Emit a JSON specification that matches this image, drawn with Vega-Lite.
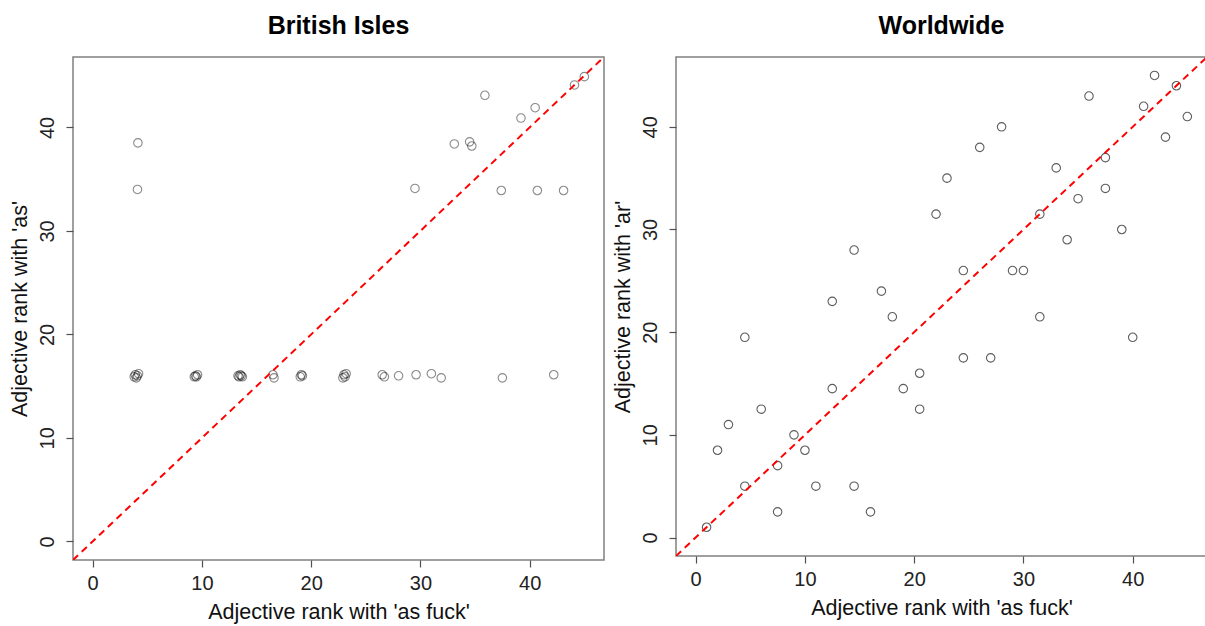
{
  "$schema": "https://vega.github.io/schema/vega-lite/v6.json",
  "padding": {"left": 8, "top": 13, "right": 0, "bottom": 0},
  "background": "white",
  "spacing": 72,
  "bounds": "flush",
  "config": {
    "view": {"stroke": "#808080", "strokeWidth": 1.5},
    "font": "Liberation Sans",
    "axis": {
      "domain": false, "grid": false, "tickColor": "#505050", "tickSize": 7, "tickWidth": 1.2,
      "labelFontSize": 20, "labelColor": "#222222", "labelPadding": 6,
      "titleFontSize": 21.5, "titleFontWeight": "normal", "titleColor": "#111111", "titlePadding": 8
    },
    "axisY": {"labelAngle": -90, "labelAlign": "center", "labelBaseline": "bottom", "labelPadding": 9, "titlePadding": 6},
    "title": {"fontSize": 25, "fontWeight": "bold", "anchor": "middle", "color": "#000000", "offset": 18}
  },
  "hconcat": [
    {
      "title": "British Isles",
      "width": 531,
      "height": 503,
      "layer": [
        {
          "data": {"values": [
            {"rank_as_fuck": 4.14, "rank_as": 38.5},
            {"rank_as_fuck": 4.1, "rank_as": 34.0},
            {"rank_as_fuck": 35.9, "rank_as": 43.1},
            {"rank_as_fuck": 29.5, "rank_as": 34.1},
            {"rank_as_fuck": 33.1, "rank_as": 38.4},
            {"rank_as_fuck": 34.5, "rank_as": 38.6},
            {"rank_as_fuck": 34.7, "rank_as": 38.2},
            {"rank_as_fuck": 39.2, "rank_as": 40.9},
            {"rank_as_fuck": 40.5, "rank_as": 41.9},
            {"rank_as_fuck": 37.4, "rank_as": 33.9},
            {"rank_as_fuck": 40.7, "rank_as": 33.9},
            {"rank_as_fuck": 43.1, "rank_as": 33.9},
            {"rank_as_fuck": 44.1, "rank_as": 44.1},
            {"rank_as_fuck": 45.0, "rank_as": 44.9},
            {"rank_as_fuck": 3.8, "rank_as": 15.9},
            {"rank_as_fuck": 3.9, "rank_as": 16.1},
            {"rank_as_fuck": 4.0, "rank_as": 15.8},
            {"rank_as_fuck": 4.1, "rank_as": 16.0},
            {"rank_as_fuck": 4.2, "rank_as": 16.2},
            {"rank_as_fuck": 9.3, "rank_as": 15.9},
            {"rank_as_fuck": 9.4, "rank_as": 16.0},
            {"rank_as_fuck": 9.5, "rank_as": 15.9},
            {"rank_as_fuck": 9.6, "rank_as": 16.1},
            {"rank_as_fuck": 13.3, "rank_as": 16.0},
            {"rank_as_fuck": 13.4, "rank_as": 15.9},
            {"rank_as_fuck": 13.5, "rank_as": 16.1},
            {"rank_as_fuck": 13.6, "rank_as": 16.0},
            {"rank_as_fuck": 13.7, "rank_as": 15.9},
            {"rank_as_fuck": 16.5, "rank_as": 16.1},
            {"rank_as_fuck": 16.6, "rank_as": 15.8},
            {"rank_as_fuck": 19.0, "rank_as": 15.9},
            {"rank_as_fuck": 19.1, "rank_as": 16.1},
            {"rank_as_fuck": 19.2, "rank_as": 16.0},
            {"rank_as_fuck": 22.9, "rank_as": 15.8},
            {"rank_as_fuck": 23.0, "rank_as": 16.1},
            {"rank_as_fuck": 23.1, "rank_as": 15.9},
            {"rank_as_fuck": 23.2, "rank_as": 16.2},
            {"rank_as_fuck": 26.5, "rank_as": 16.1},
            {"rank_as_fuck": 26.7, "rank_as": 15.9},
            {"rank_as_fuck": 28.0, "rank_as": 16.0},
            {"rank_as_fuck": 29.6, "rank_as": 16.1},
            {"rank_as_fuck": 31.0, "rank_as": 16.2},
            {"rank_as_fuck": 31.9, "rank_as": 15.8},
            {"rank_as_fuck": 37.5, "rank_as": 15.8},
            {"rank_as_fuck": 42.2, "rank_as": 16.1}
          ]},
          "mark": {"type": "point", "shape": "circle", "filled": false, "size": 72, "stroke": "#000000", "strokeOpacity": 0.65, "strokeWidth": 1.1},
          "encoding": {
            "x": {"field": "rank_as_fuck", "type": "quantitative", "scale": {"domain": [-1.8, 46.8], "nice": false, "zero": false}, "axis": {"title": "Adjective rank with 'as fuck'", "values": [0, 10, 20, 30, 40]}},
            "y": {"field": "rank_as", "type": "quantitative", "scale": {"domain": [-1.8, 46.8], "nice": false, "zero": false}, "axis": {"title": "Adjective rank with 'as'", "values": [0, 10, 20, 30, 40]}}
          }
        },
        {
          "data": {"values": [{"line": "y = x"}]},
          "mark": {"type": "rule", "color": "#ff0000", "strokeDash": [7, 5], "strokeWidth": 2, "clip": true},
          "encoding": {"x": {"datum": -1.8}, "y": {"datum": -1.8}, "x2": {"datum": 46.8}, "y2": {"datum": 46.8}}
        }
      ]
    },
    {
      "title": "Worldwide",
      "width": 531,
      "height": 499,
      "layer": [
        {
          "data": {"values": [
            {"rank_as_fuck": 1, "rank_ar": 1},
            {"rank_as_fuck": 2, "rank_ar": 8.5},
            {"rank_as_fuck": 3, "rank_ar": 11},
            {"rank_as_fuck": 4.5, "rank_ar": 19.5},
            {"rank_as_fuck": 4.5, "rank_ar": 5},
            {"rank_as_fuck": 6, "rank_ar": 12.5},
            {"rank_as_fuck": 7.5, "rank_ar": 7},
            {"rank_as_fuck": 7.5, "rank_ar": 2.5},
            {"rank_as_fuck": 9, "rank_ar": 10},
            {"rank_as_fuck": 10, "rank_ar": 8.5},
            {"rank_as_fuck": 11, "rank_ar": 5},
            {"rank_as_fuck": 12.5, "rank_ar": 23},
            {"rank_as_fuck": 12.5, "rank_ar": 14.5},
            {"rank_as_fuck": 14.5, "rank_ar": 5},
            {"rank_as_fuck": 16, "rank_ar": 2.5},
            {"rank_as_fuck": 18, "rank_ar": 21.5},
            {"rank_as_fuck": 19, "rank_ar": 14.5},
            {"rank_as_fuck": 20.5, "rank_ar": 16},
            {"rank_as_fuck": 20.5, "rank_ar": 12.5},
            {"rank_as_fuck": 14.5, "rank_ar": 28},
            {"rank_as_fuck": 17, "rank_ar": 24},
            {"rank_as_fuck": 42, "rank_ar": 45},
            {"rank_as_fuck": 44, "rank_ar": 44},
            {"rank_as_fuck": 36, "rank_ar": 43},
            {"rank_as_fuck": 41, "rank_ar": 42},
            {"rank_as_fuck": 45, "rank_ar": 41},
            {"rank_as_fuck": 43, "rank_ar": 39},
            {"rank_as_fuck": 28, "rank_ar": 40},
            {"rank_as_fuck": 26, "rank_ar": 38},
            {"rank_as_fuck": 23, "rank_ar": 35},
            {"rank_as_fuck": 22, "rank_ar": 31.5},
            {"rank_as_fuck": 33, "rank_ar": 36},
            {"rank_as_fuck": 37.5, "rank_ar": 37},
            {"rank_as_fuck": 37.5, "rank_ar": 34},
            {"rank_as_fuck": 35, "rank_ar": 33},
            {"rank_as_fuck": 31.5, "rank_ar": 31.5},
            {"rank_as_fuck": 39, "rank_ar": 30},
            {"rank_as_fuck": 34, "rank_ar": 29},
            {"rank_as_fuck": 24.5, "rank_ar": 26},
            {"rank_as_fuck": 29, "rank_ar": 26},
            {"rank_as_fuck": 30, "rank_ar": 26},
            {"rank_as_fuck": 31.5, "rank_ar": 21.5},
            {"rank_as_fuck": 40, "rank_ar": 19.5},
            {"rank_as_fuck": 24.5, "rank_ar": 17.5},
            {"rank_as_fuck": 27, "rank_ar": 17.5}
          ]},
          "mark": {"type": "point", "shape": "circle", "filled": false, "size": 72, "stroke": "#1a1a1a", "strokeWidth": 1.1},
          "encoding": {
            "x": {"field": "rank_as_fuck", "type": "quantitative", "scale": {"domain": [-1.8, 46.8], "nice": false, "zero": false}, "axis": {"title": "Adjective rank with 'as fuck'", "values": [0, 10, 20, 30, 40]}},
            "y": {"field": "rank_ar", "type": "quantitative", "scale": {"domain": [-1.8, 46.8], "nice": false, "zero": false}, "axis": {"title": "Adjective rank with 'ar'", "values": [0, 10, 20, 30, 40]}}
          }
        },
        {
          "data": {"values": [{"line": "y = x"}]},
          "mark": {"type": "rule", "color": "#ff0000", "strokeDash": [7, 5], "strokeWidth": 2, "clip": true},
          "encoding": {"x": {"datum": -1.8}, "y": {"datum": -1.8}, "x2": {"datum": 46.8}, "y2": {"datum": 46.8}}
        }
      ]
    }
  ]
}
